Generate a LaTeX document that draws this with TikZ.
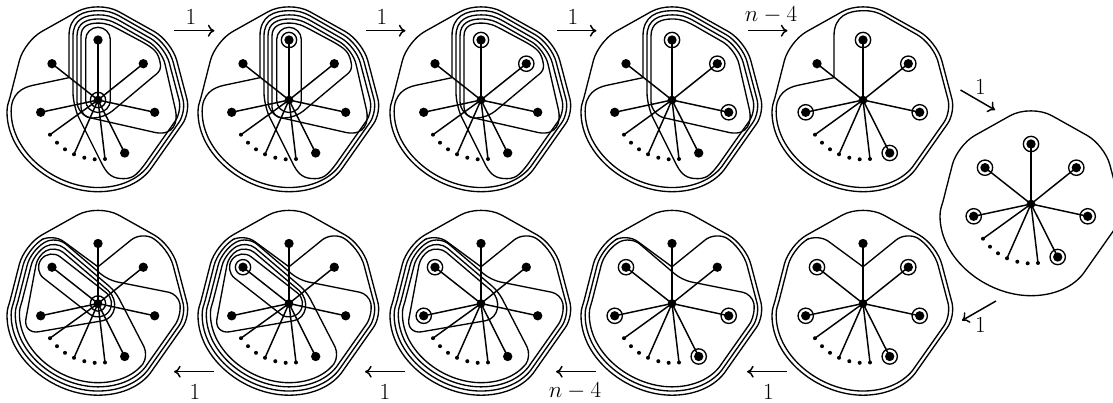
\documentclass[tikz,border=0pt]{standalone}
\usetikzlibrary{arrows.meta,calc}
\tikzset{
  x=0.75pt,y=0.75pt,
  curve/.style={line width=1pt,line cap=round,line join=round},
  spoke/.style={line width=1.1pt},
  bigdot/.style={circle,fill=black,inner sep=0pt,minimum size=7pt},
  cdot/.style={circle,fill=black,inner sep=0pt,minimum size=6.5pt},
  smalldot/.style={circle,fill=black,inner sep=0pt,minimum size=3pt},
  ringn/.style={circle,draw=black,line width=1pt,inner sep=0pt,minimum size=11.5pt},
  arr/.style={line width=1.1pt,-{To[length=5pt,width=9pt]}},
  lab/.style={inner sep=0pt,font=\fontsize{18}{20}\selectfont},
}
\newcommand\setk[1]{%
  \pgfmathsetmacro\s{1-#1*0.0455}\pgfmathsetmacro\rr{15-#1*1.2}\pgfmathsetmacro\rv{10.5-#1*.8}%
  \coordinate (RU) at ({73.7*\s},{58.7*\s});
  \coordinate (RV) at ({92.5*\s},{-12.5*\s});
  \coordinate (BS) at ({52*\s},{-70*\s});
  \coordinate (LU) at ({-73.7*\s},{58.7*\s});
  \coordinate (LT) at ({-87.9*\s},{3*\s});
  \coordinate (AP) at (0,{100*\s});
  \coordinate (FE) at (22,{100*\s-11.8});
}
% rounded corner: previous point, vertex, next point, tangent length
\newcommand\RC[4]{-- ($#2!#4!#1$) .. controls ($#2!0.448*#4!#1$) and ($#2!0.448*#4!#3$) .. ($#2!#4!#3$)}
\newcommand\BotCurve{.. controls ({40*\s},{-85*\s}) and ({20*\s},{-91.7*\s}) .. (0,{-91.7*\s}) .. controls ({-45*\s},{-91.7*\s}) and ({-91*\s},{-55*\s}) .. ({-91*\s},{-12*\s})}
\newcommand\LeftTail{.. controls ({-91*\s},{-5*\s}) and ({-89.5*\s},{-3*\s}) .. (LT)}
\newcommand\FingerTop[2]{-- (#1,64) .. controls (#1,{64+(#2-64)*.8}) and ({#1*.5},#2) .. (0,#2) .. controls (9,#2) and (13.2,{100*\s-7.1}) .. (FE)}
\newcommand\RightSide{\RC{(FE)}{(RU)}{(RV)}{\rr pt}\RC{(RU)}{(RV)}{(BS)}{\rv pt} -- (BS)}
% curves
\newcommand\COuter{\setk{0}\draw[curve] (LT) \RC{(LT)}{(LU)}{(AP)}{15pt}\RC{(LU)}{(AP)}{(RU)}{18pt}\RC{(AP)}{(RU)}{(RV)}{15pt}\RC{(RU)}{(RV)}{(BS)}{10.5pt} -- (BS) \BotCurve \LeftTail;}
\newcommand\CA{\setk{1}\draw[curve] (-29,22.3) \FingerTop{-29}{89.3} \RightSide \BotCurve .. controls (-87,6) and (-76,12.4) .. (-65,14.7) -- (-29,22.3);}
\newcommand\CB{\setk{2}\draw[curve] (-25,30) \FingerTop{-25}{85.1} \RightSide .. controls (38,-76) and (34,-79.5) .. (22,-78.5) .. controls (12,-77.5) and (8,-72) .. (3,-62) \RC{(3,-62)}{(-25,-6)}{(-25,30)}{10pt} -- (-25,30);}
\newcommand\CC{\setk{3}\draw[curve] (-21,30) \FingerTop{-21}{81} \RC{(FE)}{(RU)}{(77.5,-10)}{\rr pt} -- (77.5,-10) .. controls (80,-22) and (76,-35.5) .. (58,-32.7) \RC{(58,-32.7)}{(-21,-14.8)}{(-21,30)}{10pt} -- (-21,30);}
\newcommand\CD{\setk{4}\draw[curve] (-17,30) \FingerTop{-17}{76.9} -- (44,58.2) .. controls (56,51.5) and (60,48) .. (62,38) .. controls (63.5,31) and (62,28.5) .. (56,24) \RC{(56,24)}{(6,-18)}{(-17,-18)}{8pt}\RC{(6,-18)}{(-17,-18)}{(-17,30)}{8pt} -- (-17,30);}
\newcommand\CE{\draw[curve,rounded corners=9.2pt] (-12.3,-12.5) rectangle (12.3,72.7);}
\newcommand\CAp{\setk{1}\draw[curve] (0,36.7) \RC{(0,36.7)}{(43.6,72)}{(RU)}{10pt}\RC{(43.6,72)}{(RU)}{(RV)}{\rr pt}\RC{(RU)}{(RV)}{(BS)}{\rv pt} -- (BS) \BotCurve \LeftTail \RC{(LT)}{(LU)}{(-45.2,70)}{\rr pt}\RC{(LU)}{(-45.2,70)}{(0,36.7)}{10pt} -- (0,36.7);}
\newcommand\CBp{\setk{2}\draw[curve] (-15,44.75) \RC{(-15,44.75)}{(10,23.4)}{(80,9.4)}{7pt}\RC{(10,23.4)}{(80,9.4)}{(RV)}{7pt}\RC{(80,9.4)}{(RV)}{(BS)}{\rv pt} -- (BS) \BotCurve \LeftTail \RC{(LT)}{(LU)}{(-41.8,67.6)}{11.5pt}\RC{(LU)}{(-41.8,67.6)}{(-15,44.75)}{9.5pt} -- (-15,44.75);}
\newcommand\CCp{\setk{3}\draw[curve] (-15,39.55) \RC{(-15,39.55)}{(17.4,12)}{(46,-43.3)}{6pt} -- (46,-43.3) .. controls (48.5,-48.3) and (48,-56.4) .. (BS) \BotCurve \LeftTail \RC{(LT)}{(LU)}{(-42.3,62.7)}{9.5pt}\RC{(LU)}{(-42.3,62.7)}{(-15,39.55)}{8.5pt} -- (-15,39.55);}
\newcommand\CDp{\setk{4}\draw[curve] (-10,30.1) -- (10,13.1) .. controls (21,3.4) and (18,-15) .. (4.3,-17.3) \RC{(4.3,-17.3)}{(-75,-31)}{(LU)}{12pt}\RC{(-75,-31)}{(LU)}{(-42.7,57.9)}{7pt}\RC{(LU)}{(-42.7,57.9)}{(-10,30.1)}{8pt} -- (-10,30.1);}
\newcommand\CEp{\draw[curve,rotate=142,rounded corners=10.1pt] (-13.5,-13.5) rectangle (71.9,13.5);}
% panel: name, cx, cy, curves, rings
\newcommand\Panel[5]{%
\begin{scope}[shift={(#2,#3)}]
#4
\node[cdot] (#1c) at (0,0) {};
\node[bigdot] (#1t) at (0,60) {};
\node[bigdot] (#1ur) at (45.3,36.3) {};
\node[bigdot] (#1r) at (56.7,-12.3) {};
\node[bigdot] (#1lr) at (26.7,-53) {};
\node[bigdot] (#1l) at (-57.3,-12.3) {};
\node[bigdot] (#1ul) at (-46,36.3) {};
\node[smalldot] (#1sa) at (7,-59) {};
\node[smalldot] (#1sb) at (-24,-54.3) {};
\node[smalldot] (#1sc) at (-48,-34.7) {};
\node[smalldot] (#1da) at (-41,-42.7) {};
\node[smalldot] (#1db) at (-33,-49.3) {};
\node[smalldot] (#1dc) at (-13.7,-57.7) {};
\node[smalldot] (#1dd) at (-3.3,-59.3) {};
\foreach \e in {t,ur,r,lr,l,ul,sa,sb,sc} {\draw[spoke] (#1c.center) -- (#1\e.center);}
\foreach \e in {#5} {\node[ringn] (#1ring\e) at (#1\e) {};}
\end{scope}}
\begin{document}
\begin{tikzpicture}
\useasboundingbox (0,0) rectangle (1113,403);
\Panel{pa}{98}{303}{\COuter\CA\CB\CC\CD\CE}{c}
\Panel{pb}{289}{303}{\COuter\CA\CB\CC\CD\CE}{t}
\Panel{pc}{481}{303}{\COuter\CA\CB\CC\CD}{t,ur}
\Panel{pd}{672}{303}{\COuter\CA\CB\CC}{t,ur,r}
\Panel{pe}{863}{303}{\COuter\CA}{t,ur,r,lr,l}
\Panel{pf}{1031}{199}{\COuter}{t,ur,r,lr,l,ul}
\Panel{pg}{863}{99.5}{\COuter\CAp}{ur,r,lr,l,ul}
\Panel{ph}{672}{99.5}{\COuter\CAp\CBp}{r,lr,l,ul}
\Panel{pi}{481}{99.5}{\COuter\CAp\CBp\CCp\CDp}{l,ul}
\Panel{pj}{289}{99.5}{\COuter\CAp\CBp\CCp\CDp\CEp}{ul}
\Panel{pk}{98}{99.5}{\COuter\CAp\CBp\CCp\CDp\CEp}{c}
% arrows
\coordinate (aa) at (174,372.3); \coordinate (ab) at (214.5,372.3);
\coordinate (ba) at (366,372.3); \coordinate (bb) at (405.5,372.3);
\coordinate (ca) at (557,372.3); \coordinate (cb) at (596.5,372.3);
\coordinate (da) at (748,372.3); \coordinate (db) at (787.5,372.3);
\coordinate (ea) at (960.5,313); \coordinate (eb) at (995,293);
\coordinate (fa) at (996,102); \coordinate (fb) at (962,82.5);
\coordinate (ga) at (787,31.3); \coordinate (gb) at (747,31.3);
\coordinate (ha) at (596,31.3); \coordinate (hb) at (556,31.3);
\coordinate (ia) at (405,31.3); \coordinate (ib) at (365,31.3);
\coordinate (ja) at (214,31.3); \coordinate (jb) at (174,31.3);
\foreach \n in {a,b,c,d,e,f,g,h,i,j} {\draw[arr] (\n a) -- (\n b);}
\node[lab] (la) at (191,386) {$1$};
\node[lab] (lb) at (382,386) {$1$};
\node[lab] (lc) at (573,386) {$1$};
\node[lab] (ld) at (771,388) {$n-4$};
\node[lab] (le) at (980.5,316) {$1$};
\node[lab] (lf) at (980.5,78) {$1$};
\node[lab] (lg) at (768.5,11) {$1$};
\node[lab] (lh) at (575,12) {$n-4$};
\node[lab] (li) at (385,11) {$1$};
\node[lab] (lj) at (195,11) {$1$};
\end{tikzpicture}
\end{document}
